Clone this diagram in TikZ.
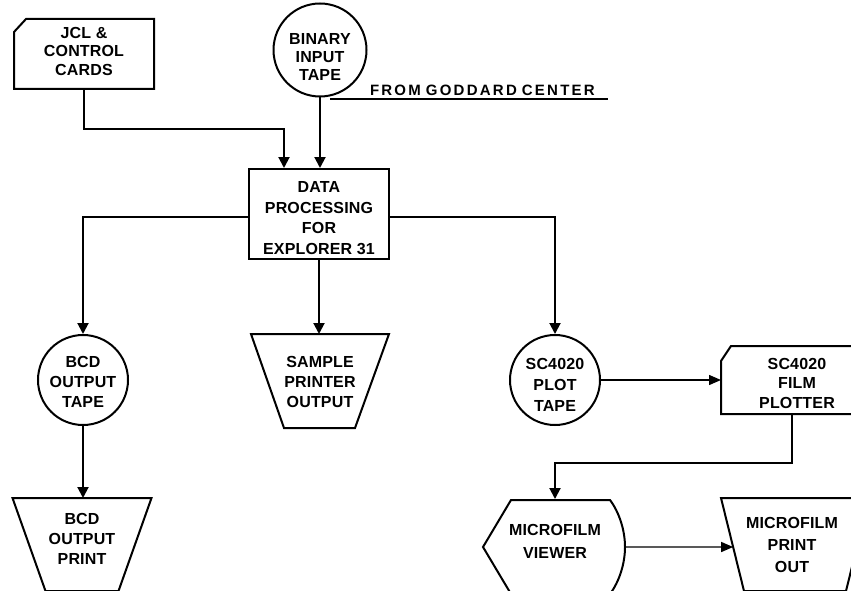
\documentclass[tikz,border=0pt]{standalone}
\usepackage{fontspec}
\setmainfont{Liberation Sans}[LetterSpace=1,BoldFont={Liberation Sans Bold}]
\usetikzlibrary{arrows.meta,calc}
\begin{document}
\begin{tikzpicture}[x=1pt,y=-1pt, line width=2pt,
  shp/.style={rectangle, draw=none, inner sep=0, outer sep=1pt},
  tape/.style={circle, draw, inner sep=0, minimum size=90pt},
  lbl/.style={align=center, inner sep=0, font=\bfseries\fontsize{16}{20}\selectfont},
  arr/.style={-{Triangle[width=11pt,length=11pt]}},
  hair/.style={line width=1.4pt},
  harr/.style={hair, -{Triangle[width=10pt,length=12pt]}}]
\useasboundingbox (0,0) rectangle (851,591);
\clip (0,0) rectangle (851,591);

% JCL & control cards (card shape)
\node[shp, minimum width=138pt, minimum height=68pt] (jcl) at (84,54) {};
\draw ($(jcl.north west)+(0,13)$) -- ($(jcl.north west)+(12,0)$) -- (jcl.north east)
      -- (jcl.south east) -- (jcl.south west) -- cycle;
\node[lbl, font=\bfseries\fontsize{16}{18.5}\selectfont] (jclt) at (84,51) {JCL \&\\CONTROL\\CARDS};

% Binary input tape
\node[tape, minimum size=93pt] (bin) at (320,50) {};
\node[lbl, font=\bfseries\fontsize{16}{18}\selectfont] (bint) at (320,57) {BINARY\\INPUT\\TAPE};
\coordinate (gs) at (330,99);
\coordinate (ge) at (608,99);
\draw[hair] (gs) -- (ge);
\node[lbl, anchor=base west, font=\bfseries\fontsize{15}{18}\selectfont\addfontfeature{LetterSpace=15}]
  (gct) at (369,96) {FROM\hspace{5pt}GODDARD\hspace{5pt}CENTER};

% Data processing
\node[shp, draw, minimum width=140pt, minimum height=90pt] (dp) at (319,214) {};
\node[lbl, font=\bfseries\fontsize{16}{20.5}\selectfont] (dpt) at (319,218) {DATA\\PROCESSING\\FOR\\EXPLORER 31};

% BCD output tape
\node[tape] (bcd) at (83,380) {};
\node[lbl] (bcdt) at (83,382) {BCD\\OUTPUT\\TAPE};

% Sample printer output
\node[shp, minimum width=136pt, minimum height=92pt] (samp) at (320,381) {};
\draw (samp.north west) -- (samp.north east) -- ($(samp.south east)+(-34,0)$)
      -- ($(samp.south west)+(33,0)$) -- cycle;
\node[lbl] (sampt) at (320,382) {SAMPLE\\PRINTER\\OUTPUT};

% SC4020 plot tape
\node[tape] (plot) at (555,380) {};
\node[lbl, font=\bfseries\fontsize{16}{21}\selectfont] (plott) at (555,385) {SC4020\\PLOT\\TAPE};

% SC4020 film plotter
\node[shp, minimum width=136pt, minimum height=66pt] (film) at (790,380) {};
\draw ($(film.north west)+(0,15)$) -- ($(film.north west)+(10,0)$) -- ($(film.north east)+(10,0)$)
      -- ($(film.south east)+(10,0)$) -- (film.south west) -- cycle;
\node[lbl, font=\bfseries\fontsize{16}{19.5}\selectfont] (filmt) at (797,383) {SC4020\\FILM\\PLOTTER};

% BCD output print
\node[shp, minimum width=137pt, minimum height=91pt] (bprint) at (82,544.5) {};
\draw (bprint.north west) -- (bprint.north east) -- ($(bprint.south east)+(-33,0)$)
      -- ($(bprint.south west)+(33,0)$) -- cycle;
\node[lbl] (bprintt) at (82,539) {BCD\\OUTPUT\\PRINT};

% Microfilm viewer (display)
\node[shp, minimum width=142pt, minimum height=94pt] (view) at (554,547) {};
\draw (483,547) -- (511,500) -- (610,500) .. controls (619,512) and (625,530) .. (625,547)
      .. controls (625,564) and (619,582) .. (610,594) -- (511,594) -- cycle;
\node[lbl, font=\bfseries\fontsize{16}{23}\selectfont] (viewt) at (555,541) {MICROFILM\\VIEWER};

% Microfilm print out
\node[shp, minimum width=136pt, minimum height=91pt] (mprint) at (790,544.5) {};
\coordinate (mpsw) at ($(mprint.south west)+(23,0)$);
\draw (mprint.north west) -- ($(mprint.north east)+(10,0)$) -- ($(mprint.south east)+(-13,0)$)
      -- (mpsw) -- cycle;
\node[lbl, font=\bfseries\fontsize{16}{22}\selectfont] (mprintt) at (792,545) {MICROFILM\\PRINT\\OUT};
\coordinate (mpin) at ($(mprint.north west)!0.527!(mpsw)$);

% Connectors
\draw[arr] (jcl.south) -- ++(0,40) -| ($(dp.north west)+(36,0)$);
\draw[arr] (bin.south) -- (bin.south |- dp.north);
\draw[arr] ($(dp.west)+(0,3)$) -| (bcd.north);
\draw[arr] (dp.south) -- (dp.south |- samp.north);
\draw[arr] ($(dp.east)+(0,3)$) -| (plot.north);
\draw[arr] (bcd.south) -- (bcd.south |- bprint.north);
\draw[harr] (plot.east) -- (plot.east -| film.west);
\draw[arr] ($(film.south west)+(71,0)$) |- ($(view.north)+(1,-36)$) -- ($(view.north)+(1,0)$);
\draw[harr] (view.east) -- (mpin);
\end{tikzpicture}
\end{document}
